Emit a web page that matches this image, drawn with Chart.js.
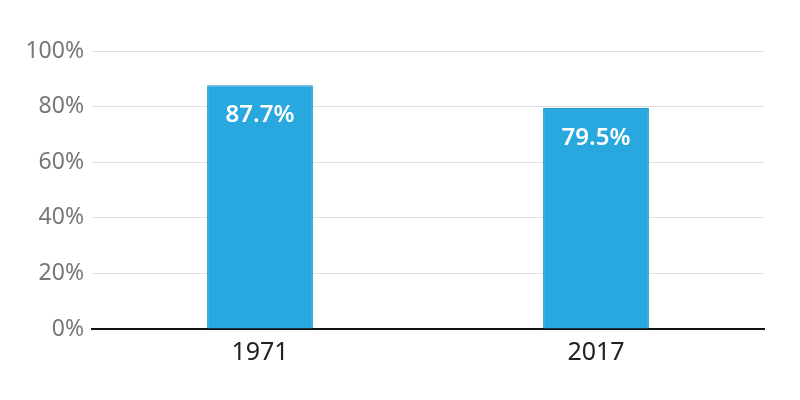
<!DOCTYPE html>
<html><head><meta charset="utf-8">
<script src="https://cdn.jsdelivr.net/npm/chart.js@4/dist/chart.umd.min.js"></script>
<style>html,body{margin:0;padding:0;background:#fff}#wrap{width:800px;height:400px}</style>
</head><body><div id="wrap"><canvas id="c" width="800" height="400"></canvas></div>
<script>
const categories = ["1971", "2017"];
const values = [87.7, 79.5];
const yTicks = [0, 20, 40, 60, 80, 100];

const labelPlugin = {
  id: 'barLabels',
  afterDatasetsDraw(chart) {
    const ctx = chart.ctx;
    const meta = chart.getDatasetMeta(0);
    ctx.save();
    ctx.fillStyle = '#ffffff';
    ctx.font = '600 24px "Noto Sans"';
    ctx.textAlign = 'center';
    ctx.textBaseline = 'middle';
    meta.data.forEach((bar, i) => {
      ctx.fillText(values[i].toFixed(1) + '%', bar.x, bar.y + 30);
    });
    ctx.restore();
  }
};

new Chart(document.getElementById('c'), {
  type: 'bar',
  data: {
    labels: categories,
    datasets: [{
      data: values,
      backgroundColor: '#29a8e0',
      borderColor: '#2499cf',
      borderWidth: 1,
      barPercentage: 0.315,
      categoryPercentage: 1.0
    }]
  },
  options: {
    responsive: false,
    animation: false,
    layout: { padding: { top: 51, right: 36, left: 0, bottom: 0 } },
    plugins: { legend: { display: false }, tooltip: { enabled: false } },
    scales: {
      x: {
        grid: { display: false, drawTicks: false },
        border: { color: '#111', width: 2 },
        ticks: { color: '#222', font: { family: 'Noto Sans', size: 25 }, padding: 9 },
        afterFit(s) { s.height = 71; }
      },
      y: {
        min: 0, max: 100,
        afterBuildTicks(s) { s.ticks = yTicks.map(v => ({ value: v })); },
        grid: { color: '#e0e0e0', lineWidth: 1, drawTicks: false },
        border: { display: false },
        ticks: { color: '#777', font: { family: 'Noto Sans', size: 23 }, padding: 8, callback: v => v + '%' },
        afterFit(s) { s.width = 92; }
      }
    }
  },
  plugins: [labelPlugin]
});
</script></body></html>
